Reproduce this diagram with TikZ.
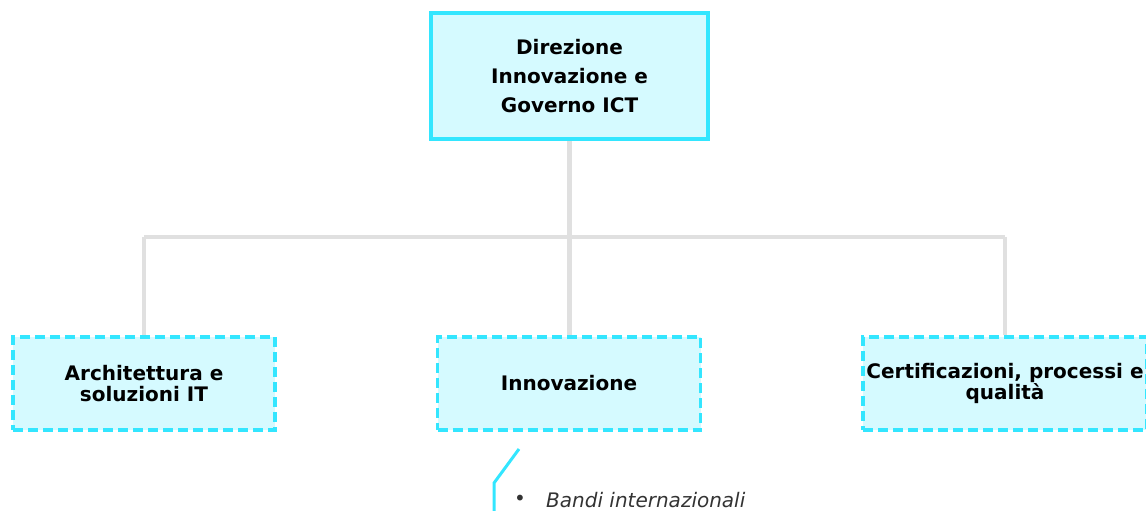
\documentclass[tikz,border=0pt]{standalone}
\usepackage{fontspec}
\setmainfont{DejaVu Sans}
\definecolor{boxfill}{RGB}{213,250,255}
\definecolor{boxline}{RGB}{51,230,255}
\definecolor{linkgray}{RGB}{224,224,224}
\definecolor{txtgray}{RGB}{51,51,51}
\begin{document}
\begin{tikzpicture}[x=1pt,y=-1pt,
  topbox/.style={draw=boxline,fill=boxfill,line width=4pt,minimum width=277pt,minimum height=126pt,
    align=center,font=\fontsize{20}{29}\selectfont\bfseries,inner sep=0pt},
  subbox/.style={draw=boxline,fill=boxfill,line width=3.5pt,dash pattern=on 10pt off 5pt,minimum height=93pt,
    align=center,font=\fontsize{20}{21}\selectfont\bfseries,inner sep=0pt},
  link/.style={draw=linkgray,line width=4.5pt},
  callout/.style={draw=boxline,line width=3pt}]
\useasboundingbox (0,0) rectangle (1146,511);
\begin{scope}
\clip (0,0) rectangle (1146,511);
\node[topbox] (top) at (569.5,76) {Direzione\\Innovazione e\\Governo ICT};
\coordinate (j) at (569.5,237);
\coordinate (jl) at (144,237);
\coordinate (jr) at (1005,237);
\node[subbox,minimum width=262pt] (arch) at (144,383.5) {Architettura e\\soluzioni IT};
\node[subbox,minimum width=263pt] (inno) at (569,383.5) {Innovazione};
\node[subbox,minimum width=284pt] (cert) at (1005,383.5) {Certificazioni, processi e\\qualità};
\draw[link] (top.south) -- (j);
\draw[link] (jl) -- (jr);
\draw[link] (jl) -- (arch.north);
\draw[link] (j) -- (j |- inno.north);
\draw[link] (jr) -- (cert.north);
\coordinate (c1) at (519,449);
\coordinate (c2) at (494,483);
\coordinate (c3) at (494,515);
\draw[callout] (c1) -- (c2) -- (c3);
\node[anchor=west,text=txtgray,font=\fontsize{20}{24}\selectfont,inner sep=0pt] (bul) at (514,500) {•};
\node[anchor=west,text=txtgray,font=\fontsize{20}{24}\selectfont\itshape,inner sep=0pt] (bandi) at (546,500) {Bandi internazionali};
\end{scope}
\end{tikzpicture}
\end{document}
